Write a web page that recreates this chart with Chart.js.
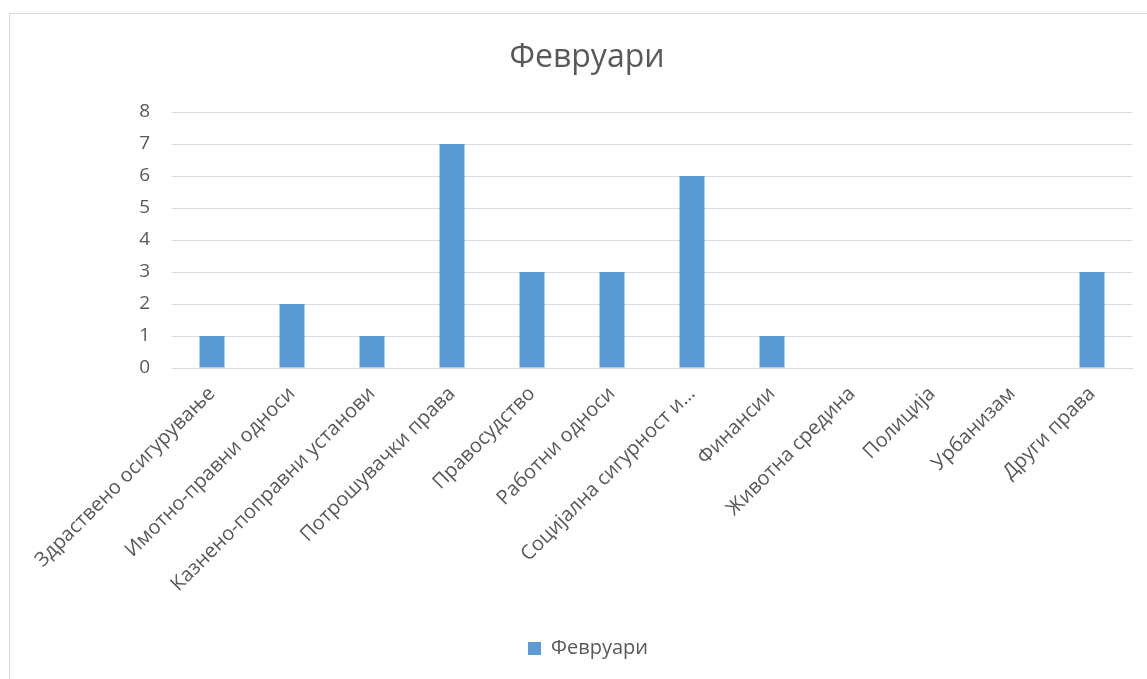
<!DOCTYPE html>
<html>
<head>
<meta charset="utf-8">
<script src="https://cdn.jsdelivr.net/npm/chart.js@4/dist/chart.umd.min.js"></script>
<style>
  html, body { margin: 0; padding: 0; background: #ffffff; }
  #wrap { position: relative; width: 1147px; height: 679px; }
</style>
</head>
<body>
<div id="wrap"><canvas id="c" width="1147" height="679"></canvas></div>
<script>
// Categories and monthly counts
const categories = [
  'Здраствено осигурување',
  'Имотно-правни односи',
  'Казнено-поправни установи',
  'Потрошувачки права',
  'Правосудство',
  'Работни односи',
  'Социјална сигурност и…',
  'Финансии',
  'Животна средина',
  'Полиција',
  'Урбанизам',
  'Други права'
];
const seriesName = 'Февруари';
const values = [1, 2, 1, 7, 3, 3, 6, 1, 0, 0, 0, 3];
const yTicks = [0, 1, 2, 3, 4, 5, 6, 7, 8];
const chartTitle = 'Февруари';

const FONT = '"Open Sans", "Noto Sans", sans-serif';
const TEXT = '#595959';
const GRID = '#d9d9d9';

// Frame around the chart and its heading
const frameAndHeading = {
  id: 'frameAndHeading',
  beforeDraw(chart) {
    const ctx = chart.ctx;
    ctx.save();
    ctx.fillStyle = '#ffffff';
    ctx.fillRect(0, 0, chart.width, chart.height);
    ctx.strokeStyle = GRID;
    ctx.lineWidth = 1;
    ctx.strokeRect(9.5, 13.5, chart.width + 40, chart.height + 40);
    ctx.restore();
  },
  afterDraw(chart) {
    const ctx = chart.ctx;
    ctx.save();
    ctx.fillStyle = TEXT;
    ctx.font = '32px ' + FONT;
    ctx.textAlign = 'center';
    ctx.textBaseline = 'middle';
    ctx.fillText(chartTitle, 587, 58);
    ctx.restore();
  }
};

new Chart(document.getElementById('c'), {
  type: 'bar',
  data: {
    labels: categories,
    datasets: [{
      label: seriesName,
      data: values,
      backgroundColor: '#5b9bd5',
      borderWidth: 0,
      barPercentage: 0.3125,
      categoryPercentage: 1.0
    }]
  },
  options: {
    responsive: false,
    animation: false,
    layout: { padding: { top: 112, left: 44, right: 15, bottom: 10.5 } },
    plugins: {
      title: { display: false },
      tooltip: { enabled: false },
      legend: {
        position: 'bottom',
        labels: {
          boxWidth: 13,
          boxHeight: 13,
          padding: 10,
          color: TEXT,
          font: { family: FONT, size: 20 }
        }
      }
    },
    scales: {
      x: {
        grid: { display: false, drawTicks: false },
        border: { display: true, color: GRID, width: 1 },
        ticks: {
          autoSkip: false,
          maxRotation: 45,
          minRotation: 45,
          padding: 14,
          color: TEXT,
          font: { family: FONT, size: 20 }
        },
        afterFit(scale) { scale.height = 260.5; }
      },
      y: {
        min: 0,
        max: 8,
        afterBuildTicks(scale) { scale.ticks = yTicks.map(v => ({ value: v })); },
        grid: { color: GRID, lineWidth: 1, drawTicks: false },
        border: { display: false },
        ticks: {
          padding: 22,
          color: TEXT,
          font: { family: FONT, size: 19 }
        },
        afterFit(scale) { scale.width = 128; }
      }
    }
  },
  plugins: [frameAndHeading]
});
</script>
</body>
</html>
